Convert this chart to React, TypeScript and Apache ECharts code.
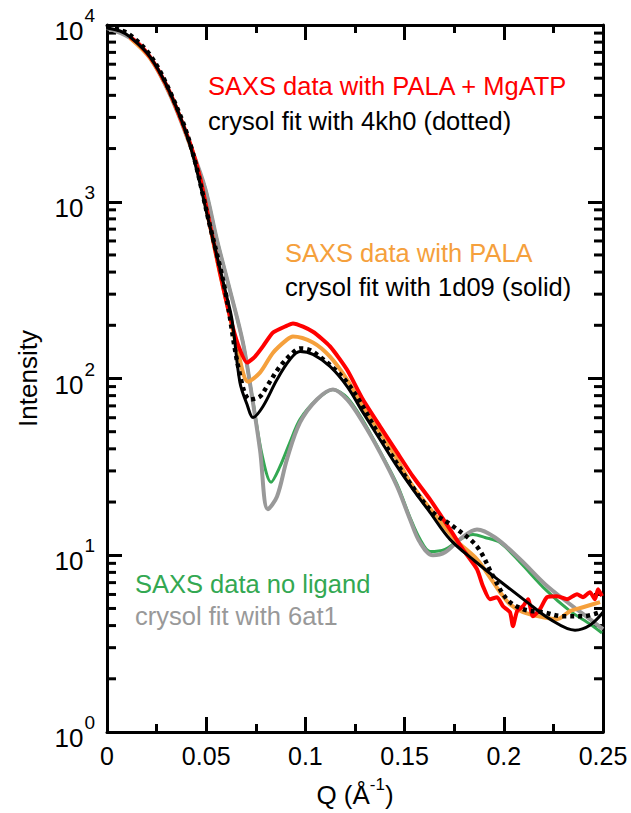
import React, { useEffect, useRef } from 'react';
import * as echarts from 'echarts';

// ---- data (Q in 1/Å, intensity) ----
const redQ = [0.0116, 0.0166, 0.0217, 0.0267, 0.0318, 0.0368, 0.0418, 0.0469, 0.0519, 0.0570, 0.0620, 0.0660, 0.0706, 0.0746, 0.0786, 0.0837, 0.0907, 0.0937, 0.1038, 0.1124, 0.1210, 0.1290, 0.1376, 0.1462, 0.1542, 0.1628, 0.1729, 0.1794, 0.1865, 0.1895, 0.1930, 0.1966, 0.1996, 0.2031, 0.2046, 0.2067, 0.2097, 0.2122, 0.2147, 0.2182, 0.2218, 0.2268, 0.2319, 0.2369, 0.2399, 0.2434, 0.2460, 0.2475, 0.2495];
const redI = [8560, 7710, 6600, 5350, 4130, 3020, 2150, 1370, 740, 395, 224, 156, 123, 133, 152, 182, 199, 205, 184, 152, 112, 76, 53.6, 38.2, 27.9, 20.7, 14.0, 10.8, 8.33, 6.68, 5.64, 5.79, 5.15, 4.76, 3.97, 4.83, 5.15, 5.64, 4.52, 4.95, 5.79, 5.87, 5.64, 6.02, 5.79, 6.18, 5.64, 6.43, 5.87];

const orangeQ = [0.0116, 0.0217, 0.0318, 0.0418, 0.0469, 0.0519, 0.0570, 0.0620, 0.0660, 0.0711, 0.0771, 0.0837, 0.0907, 0.0937, 0.1038, 0.1124, 0.1210, 0.1290, 0.1376, 0.1462, 0.1542, 0.1643, 0.1754, 0.1865, 0.1930, 0.1981, 0.2031, 0.2097, 0.2198, 0.2268, 0.2334, 0.2399, 0.2485];
const orangeI = [8450, 6500, 4080, 2120, 1350, 730, 390, 222, 142, 96, 108, 140, 166, 173, 160, 133, 98.7, 69.5, 49.5, 34.9, 24.5, 17.5, 12.3, 9.49, 7.51, 6.18, 5.28, 4.76, 4.46, 4.35, 4.83, 5.08, 5.43];

const fit1d09Q = [0, 0.0066, 0.0116, 0.0217, 0.0318, 0.0418, 0.0519, 0.0595, 0.0630, 0.0670, 0.0706, 0.0736, 0.0786, 0.0857, 0.0922, 0.0973, 0.1038, 0.1124, 0.1210, 0.1290, 0.1376, 0.1462, 0.1542, 0.1628, 0.1729, 0.1855, 0.1981, 0.2117, 0.2233, 0.2359, 0.2434, 0.2500];
const fit1d09I = [9620, 9250, 8560, 6600, 4130, 2100, 720, 318, 215, 94.9, 71.3, 60.2, 69.5, 98.7, 128, 142, 137, 117, 90.2, 64.3, 45.2, 31.8, 23.6, 17.5, 12.3, 9.25, 7.13, 5.43, 4.35, 3.77, 4.02, 4.76];

const fit4kh0Q = [0, 0.0066, 0.0116, 0.0217, 0.0318, 0.0418, 0.0519, 0.0595, 0.0670, 0.0721, 0.0771, 0.0806, 0.0872, 0.0937, 0.0973, 0.1038, 0.1210, 0.1376, 0.1542, 0.1643, 0.1744, 0.1865, 0.1946, 0.2016, 0.2097, 0.2198, 0.2298, 0.2399, 0.2485];
const fit4kh0I = [9800, 9370, 8790, 6770, 4180, 2150, 730, 318, 105, 76.1, 79.1, 90.2, 117, 140, 148, 142, 94.9, 47.0, 24.2, 17.5, 14.6, 11.2, 7.61, 5.64, 4.95, 4.76, 4.52, 4.52, 4.76];

const greenQ = [0.0116, 0.0217, 0.0318, 0.0418, 0.0494, 0.0554, 0.0620, 0.0685, 0.0731, 0.0781, 0.0827, 0.0872, 0.0922, 0.0973, 0.1058, 0.1139, 0.1210, 0.1290, 0.1376, 0.1462, 0.1527, 0.1578, 0.1628, 0.1704, 0.1779, 0.1845, 0.1905, 0.1981, 0.2082, 0.2208, 0.2334, 0.2434, 0.2495];
const greenI = [8450, 6510, 4020, 2100, 1200, 610, 315, 160, 80, 37.2, 25.9, 31.8, 43.5, 58.7, 76.1, 86.7, 78.1, 57.9, 38.7, 25.2, 16.4, 12.3, 10.5, 10.8, 12.3, 13.1, 12.6, 11.8, 9.13, 6.43, 4.83, 4.08, 3.63];

const fit6at1Q = [0, 0.0116, 0.0217, 0.0318, 0.0418, 0.0494, 0.0554, 0.0620, 0.0685, 0.0731, 0.0771, 0.0811, 0.0857, 0.0907, 0.0973, 0.1058, 0.1139, 0.1210, 0.1290, 0.1376, 0.1462, 0.1527, 0.1578, 0.1643, 0.1704, 0.1779, 0.1865, 0.1956, 0.2082, 0.2208, 0.2334, 0.2434, 0.2500];
const fit6at1I = [9620, 8450, 6510, 4020, 2100, 1200, 610, 315, 160, 79.1, 39.7, 18.2, 21.5, 34.9, 56.4, 76.1, 86.7, 76.1, 56.4, 38.2, 24.5, 16.0, 11.8, 10.0, 10.4, 12.3, 14.0, 12.6, 9.49, 6.86, 5.28, 4.35, 3.82];

// minor tick values of the log axis
const yMinorTicks = [2, 3, 4, 5, 6, 7, 8, 9, 20, 30, 40, 50, 60, 70, 80, 90, 200, 300, 400, 500, 600, 700, 800, 900, 2000, 3000, 4000, 5000, 6000, 7000, 8000, 9000];

const labels = [
  { text: 'SAXS data with PALA + MgATP', color: '#ff0000', x: 208, y: 86 },
  { text: 'crysol fit with 4kh0 (dotted)', color: '#000000', x: 208, y: 121 },
  { text: 'SAXS data with PALA', color: '#f5a03c', x: 285, y: 253 },
  { text: 'crysol fit with 1d09 (solid)', color: '#000000', x: 285, y: 287 },
  { text: 'SAXS data no ligand', color: '#33a852', x: 135, y: 584 },
  { text: 'crysol fit with 6at1', color: '#999999', x: 135, y: 616 },
];

const FONT = "'Liberation Sans', Arial, Helvetica, sans-serif";

const pairs = (q: number[], v: number[]) => q.map((x, k) => [x, v[k]]);

export default function App() {
  const ref = useRef<HTMLDivElement>(null);
  useEffect(() => {
    const chart = echarts.init(ref.current!, null, { renderer: 'svg' });
    const axisLine = { onZero: false, lineStyle: { color: '#000', width: 3 } };
    const axisTick = { inside: true, length: 15, lineStyle: { color: '#000', width: 3 } };
    const lineSeries = (name: string, data: number[][], color: string, width: number, dash: any, smooth: number) => ({
      type: 'line', name, data, showSymbol: false, symbol: 'none', smooth,
      xAxisIndex: 0, yAxisIndex: 0,
      lineStyle: { color, width, type: dash, cap: 'butt', join: 'round' },
    });
    chart.setOption({
      animation: false,
      grid: { left: 107, right: 28, top: 25, bottom: 80 },
      xAxis: [
        {
          type: 'value', min: 0, max: 0.25, interval: 0.05, position: 'bottom',
          axisLine, axisTick,
          minorTick: { show: true, splitNumber: 2, length: 8, lineStyle: { color: '#000', width: 3 } },
          splitLine: { show: false }, minorSplitLine: { show: false },
          axisLabel: { fontSize: 25, color: '#000', fontFamily: FONT, margin: 11 },
          name: '{n|Q (Å}{s|-1}{n|)}', nameLocation: 'middle', nameGap: 44,
          nameTextStyle: {
            rich: {
              n: { fontSize: 26, fontFamily: FONT, color: '#000', verticalAlign: 'bottom', padding: [6, 0, 0, 0] },
              s: { fontSize: 17, fontFamily: FONT, color: '#000', verticalAlign: 'top' },
            },
          },
        },
        {
          type: 'value', min: 0, max: 0.25, interval: 0.05, position: 'top',
          axisLine, axisTick,
          minorTick: { show: true, splitNumber: 2, length: 8, lineStyle: { color: '#000', width: 3 } },
          splitLine: { show: false }, axisLabel: { show: false },
        },
      ],
      yAxis: [
        {
          type: 'log', logBase: 10, min: 1, max: 10000, position: 'left',
          axisLine, axisTick, splitLine: { show: false },
          axisLabel: {
            margin: 12,
            formatter: (v: number) => '{b|10}{s|' + Math.round(Math.log10(v)) + '}',
            rich: {
              b: { fontSize: 26, fontFamily: FONT, color: '#000', verticalAlign: 'bottom', padding: [12, 0, 0, 0] },
              s: { fontSize: 19, fontFamily: FONT, color: '#000', verticalAlign: 'top', padding: [0, 0, 0, 1] },
            },
          },
          name: 'Intensity', nameLocation: 'middle', nameGap: 66, nameRotate: 90,
          nameTextStyle: { fontSize: 26, fontFamily: FONT, color: '#000' },
        },
        {
          type: 'log', logBase: 10, min: 1, max: 10000, position: 'right',
          axisLine, axisTick, splitLine: { show: false }, axisLabel: { show: false },
        },
      ],
      graphic: labels.map((l) => ({
        type: 'text', x: l.x, y: l.y,
        style: { text: l.text, fill: l.color, fontSize: 25.5, fontFamily: FONT, verticalAlign: 'middle', align: 'left' },
      })),
      series: [
        {
          type: 'custom', xAxisIndex: 0, yAxisIndex: 0, clip: false, silent: true,
          data: yMinorTicks.map((v) => [0, v]), encode: { x: 0, y: 1 },
          renderItem: (params: any, api: any) => {
            const cs = params.coordSys;
            const y = api.coord([0, api.value(1)])[1];
            return {
              type: 'group',
              children: [
                { type: 'line', shape: { x1: cs.x, y1: y, x2: cs.x + 9, y2: y }, style: { stroke: '#000', lineWidth: 3 } },
                { type: 'line', shape: { x1: cs.x + cs.width - 9, y1: y, x2: cs.x + cs.width, y2: y }, style: { stroke: '#000', lineWidth: 3 } },
              ],
            };
          },
        },
        lineSeries('SAXS data no ligand', pairs(greenQ, greenI), '#33a852', 3, 'solid', 0.3),
        lineSeries('crysol fit with 6at1', pairs(fit6at1Q, fit6at1I), '#999999', 4, 'solid', 0.35),
        lineSeries('SAXS data with PALA', pairs(orangeQ, orangeI), '#f5a03c', 4, 'solid', 0.3),
        lineSeries('SAXS data with PALA + MgATP', pairs(redQ, redI), '#ff0000', 4, 'solid', 0.2),
        lineSeries('crysol fit with 1d09', pairs(fit1d09Q, fit1d09I), '#000000', 3, 'solid', 0.35),
        lineSeries('crysol fit with 4kh0', pairs(fit4kh0Q, fit4kh0I), '#000000', 4.5, [4, 4], 0.35),
      ],
    });
    return () => chart.dispose();
  }, []);
  return <div ref={ref} style={{ position: 'absolute', left: 0, top: 0, width: 631, height: 813 }} />;
}
